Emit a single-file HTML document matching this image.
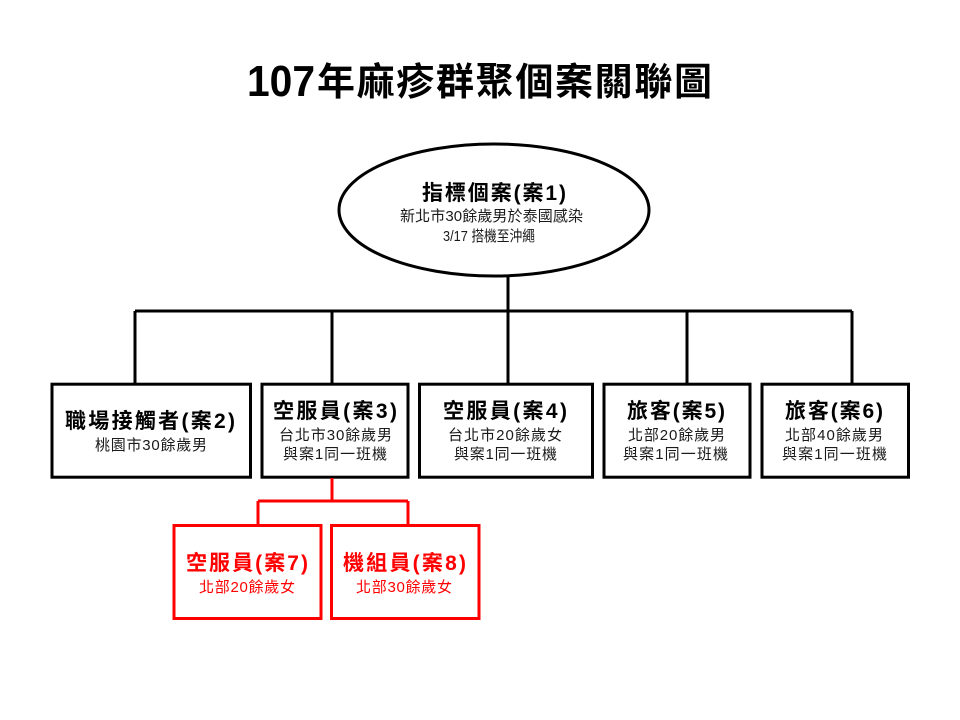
<!DOCTYPE html>
<html>
<head>
<meta charset="utf-8">
<style>
  html, body { margin: 0; padding: 0; background: #fff; }
  svg { display: block; }
  text { font-family: "Liberation Sans", "Noto Sans CJK TC", sans-serif; }
  .t { font-weight: bold; font-size: 21px; fill: #000; }
  .s { font-size: 15px; fill: #1a1a1a; }
  .r { fill: #ff0000; }
</style>
</head>
<body>
<svg width="960" height="720" viewBox="0 0 960 720" xmlns="http://www.w3.org/2000/svg">
  <rect width="960" height="720" fill="#fff"/>

  <!-- Title -->
  <text x="247" y="96" font-size="44" font-weight="bold" textLength="68" lengthAdjust="spacingAndGlyphs">107</text>
  <text x="317" y="95" font-size="38" font-weight="bold" textLength="395" lengthAdjust="spacing">年麻疹群聚個案關聯圖</text>

  <!-- Connectors (black) -->
  <g stroke="#000" stroke-width="3" fill="none">
    <line x1="508" y1="276" x2="508" y2="311"/>
    <line x1="135" y1="311" x2="852" y2="311"/>
    <line x1="135" y1="311" x2="135" y2="384"/>
    <line x1="332" y1="311" x2="332" y2="384"/>
    <line x1="508" y1="311" x2="508" y2="384"/>
    <line x1="687" y1="311" x2="687" y2="384"/>
    <line x1="852" y1="311" x2="852" y2="384"/>
  </g>

  <!-- Ellipse -->
  <ellipse cx="494" cy="210" rx="155" ry="66" fill="#fff" stroke="#000" stroke-width="3"/>
  <text class="t" x="422" y="200" textLength="144" lengthAdjust="spacing">指標個案(案1)</text>
  <text class="s" x="400" y="221" textLength="183" lengthAdjust="spacing">新北市30餘歲男於泰國感染</text>
  <text class="s" x="443" y="241" textLength="92" lengthAdjust="spacingAndGlyphs">3/17 搭機至沖繩</text>

  <!-- Black boxes -->
  <g stroke="#000" stroke-width="3" fill="#fff">
    <rect x="52" y="384.2" width="198.5" height="93"/>
    <rect x="262" y="384.2" width="146" height="93"/>
    <rect x="419.5" y="384.2" width="173" height="93"/>
    <rect x="604" y="384.2" width="146" height="93"/>
    <rect x="762" y="384.2" width="146.5" height="93"/>
  </g>

  <!-- Box 案2 -->
  <text class="t" x="65" y="428" textLength="170" lengthAdjust="spacing">職場接觸者(案2)</text>
  <text class="s" x="95" y="450" textLength="112" lengthAdjust="spacing">桃園市30餘歲男</text>

  <!-- Box 案3 -->
  <text class="t" x="273" y="418" textLength="124" lengthAdjust="spacing">空服員(案3)</text>
  <text class="s" x="279" y="440" textLength="113" lengthAdjust="spacing">台北市30餘歲男</text>
  <text class="s" x="283" y="459" textLength="104" lengthAdjust="spacing">與案1同一班機</text>

  <!-- Box 案4 -->
  <text class="t" x="443" y="418" textLength="124" lengthAdjust="spacing">空服員(案4)</text>
  <text class="s" x="448" y="440" textLength="114" lengthAdjust="spacing">台北市20餘歲女</text>
  <text class="s" x="454" y="459" textLength="103" lengthAdjust="spacing">與案1同一班機</text>

  <!-- Box 案5 -->
  <text class="t" x="627" y="418" textLength="98" lengthAdjust="spacing">旅客(案5)</text>
  <text class="s" x="628" y="440" textLength="97" lengthAdjust="spacing">北部20餘歲男</text>
  <text class="s" x="623" y="459" textLength="105" lengthAdjust="spacing">與案1同一班機</text>

  <!-- Box 案6 -->
  <text class="t" x="785" y="418" textLength="98" lengthAdjust="spacing">旅客(案6)</text>
  <text class="s" x="785" y="440" textLength="98" lengthAdjust="spacing">北部40餘歲男</text>
  <text class="s" x="782" y="459" textLength="105" lengthAdjust="spacing">與案1同一班機</text>

  <!-- Red connectors -->
  <g stroke="#ff0000" stroke-width="3" fill="none">
    <line x1="332" y1="478" x2="332" y2="501"/>
    <line x1="258" y1="501" x2="408" y2="501"/>
    <line x1="258" y1="501" x2="258" y2="526"/>
    <line x1="408" y1="501" x2="408" y2="526"/>
  </g>

  <!-- Red boxes -->
  <g stroke="#ff0000" stroke-width="3" fill="#fff">
    <rect x="174" y="525.5" width="147" height="93"/>
    <rect x="331.5" y="525.5" width="147.5" height="93"/>
  </g>
  <text class="t r" x="186" y="570" textLength="122" lengthAdjust="spacing">空服員(案7)</text>
  <text class="s r" x="199" y="592" textLength="96" lengthAdjust="spacing">北部20餘歲女</text>
  <text class="t r" x="343" y="570" textLength="123" lengthAdjust="spacing">機組員(案8)</text>
  <text class="s r" x="356" y="592" textLength="96" lengthAdjust="spacing">北部30餘歲女</text>
</svg>
</body>
</html>
